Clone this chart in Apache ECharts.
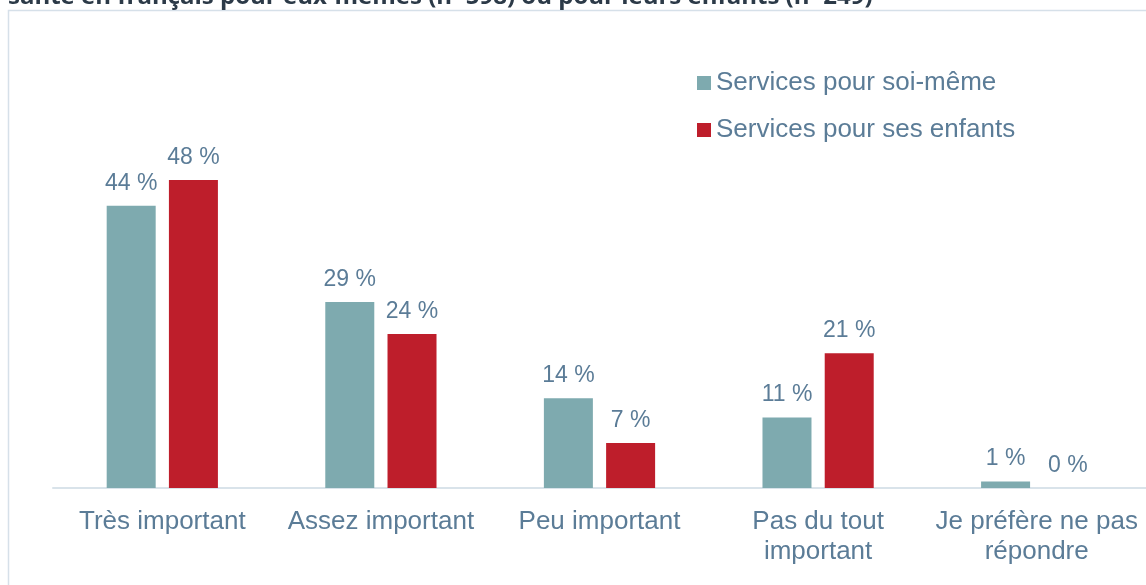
<!DOCTYPE html>
<html>
<head>
<meta charset="utf-8">
<script src="https://cdn.jsdelivr.net/npm/echarts@6/dist/echarts.min.js"></script>
<style>
  html, body { margin: 0; padding: 0; background: #fff; }
  #main { width: 1146px; height: 585px; }
</style>
</head>
<body>
<div id="main"></div>
<script>
// catégories et valeurs (%)
var categories = ['Très important', 'Assez important', 'Peu important', 'Pas du tout\nimportant', 'Je préfère ne pas\nrépondre'];
var soiMeme = [44, 29, 14, 11, 1];
var enfants = [48, 24, 7, 21, 0];
var seriesNames = ['Services pour soi-même', 'Services pour ses enfants'];
var titre = 'santé en français pour eux-mêmes (n=598) ou pour leurs enfants (n=249)';

var txtColor = '#5b7c97';
var font = "'Liberation Sans', Arial, sans-serif";

var myChart = echarts.init(document.getElementById('main'));

var labelCfg = {
    show: true,
    position: 'top',
    distance: 11,
    color: txtColor,
    fontSize: 23,
    fontFamily: font,
    formatter: '{c} %'
};

var option = {
    backgroundColor: '#fff',
    animation: false,
    graphic: [
        {
            type: 'rect',
            shape: { x: 8.5, y: 10.5, width: 1300, height: 800 },
            style: { fill: 'none', stroke: '#d6e0e9', lineWidth: 1.5 }
        },
        {
            type: 'text',
            left: 8,
            top: -15,
            style: {
                text: titre,
                fill: '#2c3a48',
                font: "bold 24px 'Open Sans', Arial, sans-serif"
            }
        }
    ],
    legend: {
        orient: 'vertical',
        left: 697,
        top: 70,
        padding: 0,
        itemWidth: 14,
        itemHeight: 14,
        itemGap: 21,
        icon: 'rect',
        textStyle: { color: txtColor, fontSize: 26, fontFamily: font },
        data: seriesNames
    },
    grid: {
        left: 53,
        width: 1100,
        top: 103,
        bottom: 97,
        containLabel: false
    },
    xAxis: {
        type: 'category',
        data: categories,
        axisLine: { lineStyle: { color: '#d9e3ea', width: 2 } },
        axisTick: { show: false },
        axisLabel: {
            color: txtColor,
            fontSize: 26,
            fontFamily: font,
            margin: 19,
            lineHeight: 30,
            interval: 0
        }
    },
    yAxis: {
        type: 'value',
        min: 0,
        max: 60,
        show: false,
        splitLine: { show: false }
    },
    series: [
        {
            name: seriesNames[0],
            type: 'bar',
            data: soiMeme,
            barWidth: 49,
            barGap: '27%',
            itemStyle: { color: '#7eaaaf' },
            label: labelCfg
        },
        {
            name: seriesNames[1],
            type: 'bar',
            data: enfants,
            barWidth: 49,
            itemStyle: { color: '#be1e2b' },
            label: labelCfg
        }
    ]
};

myChart.setOption(option);
</script>
</body>
</html>
